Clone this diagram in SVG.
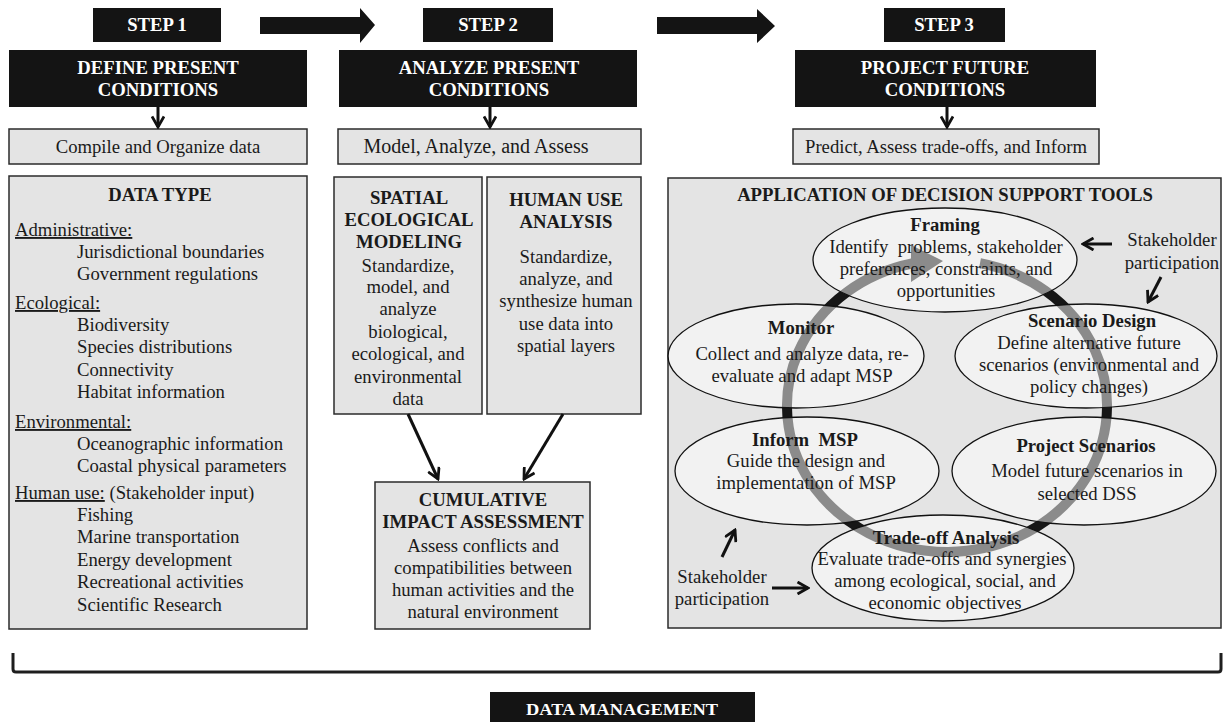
<svg xmlns="http://www.w3.org/2000/svg" width="1223" height="722" viewBox="0 0 1223 722">
<defs>
<style>
.t{font-family:"Liberation Serif","Times New Roman",serif;font-size:18.7px;fill:#1a1a1a}
.b{font-weight:bold}
.w{fill:#ffffff}
.c{text-anchor:middle}
.u{text-decoration:underline}
.box{fill:#e4e4e4;stroke:#2b2b2b;stroke-width:1.5}
.blk{fill:#141414}
.ell{fill:#ffffff;fill-opacity:0.5;stroke:#111;stroke-width:1.3}
.arr{stroke:#111;stroke-width:3;fill:none}
</style>
<marker id="v" viewBox="0 0 14 14" markerWidth="14" markerHeight="14" refX="12" refY="7" orient="auto" markerUnits="userSpaceOnUse">
<path d="M1.5,1 L12,7 L1.5,13" fill="none" stroke="#111" stroke-width="2.8"/>
</marker>
</defs>
<rect width="1223" height="722" fill="#ffffff"/>

<g id="step-arrows">
<polygon class="blk" points="260,17 360,17 360,8 375,25 360,43 360,34 260,34"/>
<polygon class="blk" points="657,17 757,17 757,9 775,26 757,43 757,34 657,34"/>
</g>

<g id="step1">
<rect class="blk" x="93" y="8" width="128" height="34"/>
<text class="t b w c" x="157" y="31">STEP 1</text>
</g>
<g id="step2">
<rect class="blk" x="423" y="8" width="130" height="34"/>
<text class="t b w c" x="488" y="31">STEP 2</text>
</g>
<g id="step3">
<rect class="blk" x="884" y="8" width="121" height="34"/>
<text class="t b w c" x="944" y="31">STEP 3</text>
</g>

<g id="define">
<rect class="blk" x="9" y="50" width="298" height="57"/>
<text class="t b w c" x="158" y="74">DEFINE PRESENT</text>
<text class="t b w c" x="158" y="96">CONDITIONS</text>
</g>
<g id="analyze">
<rect class="blk" x="339" y="50" width="298" height="57"/>
<text class="t b w c" x="489" y="74">ANALYZE PRESENT</text>
<text class="t b w c" x="489" y="96">CONDITIONS</text>
</g>
<g id="project">
<rect class="blk" x="795" y="50" width="301" height="57"/>
<text class="t b w c" x="945" y="74">PROJECT FUTURE</text>
<text class="t b w c" x="945" y="96">CONDITIONS</text>
</g>

<g id="compile">
<rect class="box" x="9" y="129" width="298" height="35"/>
<text class="t c" x="158" y="153">Compile and Organize data</text>
</g>
<g id="model">
<rect class="box" x="338" y="129" width="303" height="35"/>
<text class="t c" x="476" y="153" style="font-size:20px">Model, Analyze, and Assess</text>
</g>
<g id="predict">
<rect class="box" x="793" y="129" width="306" height="35"/>
<text class="t c" x="946" y="153">Predict, Assess trade-offs, and Inform</text>
</g>

<g id="datatype">
<rect class="box" x="9" y="176" width="298" height="453"/>
<text class="t b c" x="160" y="201">DATA TYPE</text>
<text class="t" x="15" y="236"><tspan class="u">Administrative:</tspan></text>
<text class="t" x="77" y="258">Jurisdictional boundaries</text>
<text class="t" x="77" y="280">Government regulations</text>
<text class="t" x="15" y="309"><tspan class="u">Ecological:</tspan></text>
<text class="t" x="77" y="331">Biodiversity</text>
<text class="t" x="77" y="353">Species distributions</text>
<text class="t" x="77" y="376">Connectivity</text>
<text class="t" x="77" y="398">Habitat information</text>
<text class="t" x="15" y="428"><tspan class="u">Environmental:</tspan></text>
<text class="t" x="77" y="450">Oceanographic information</text>
<text class="t" x="77" y="472">Coastal physical parameters</text>
<text class="t" x="15" y="499"><tspan class="u">Human use:</tspan> (Stakeholder input)</text>
<text class="t" x="77" y="521">Fishing</text>
<text class="t" x="77" y="543">Marine transportation</text>
<text class="t" x="77" y="566">Energy development</text>
<text class="t" x="77" y="588">Recreational activities</text>
<text class="t" x="77" y="611">Scientific Research</text>
</g>

<g id="spatial">
<rect class="box" x="334" y="177" width="148" height="237"/>
<text class="t b c" x="409" y="204">SPATIAL</text>
<text class="t b c" x="409" y="226">ECOLOGICAL</text>
<text class="t b c" x="409" y="248">MODELING</text>
<text class="t c" x="408" y="272">Standardize,</text>
<text class="t c" x="408" y="293">model, and</text>
<text class="t c" x="408" y="315">analyze</text>
<text class="t c" x="408" y="338">biological,</text>
<text class="t c" x="408" y="360">ecological, and</text>
<text class="t c" x="408" y="383">environmental</text>
<text class="t c" x="408" y="405">data</text>
</g>
<g id="humanuse">
<rect class="box" x="487" y="177" width="154" height="237"/>
<text class="t b c" x="566" y="206">HUMAN USE</text>
<text class="t b c" x="566" y="228">ANALYSIS</text>
<text class="t c" x="566" y="263">Standardize,</text>
<text class="t c" x="566" y="285">analyze, and</text>
<text class="t c" x="566" y="307">synthesize human</text>
<text class="t c" x="566" y="330">use data into</text>
<text class="t c" x="566" y="352">spatial layers</text>
</g>
<g id="cumulative">
<rect class="box" x="375" y="482" width="215" height="147"/>
<text class="t b c" x="483" y="506">CUMULATIVE</text>
<text class="t b c" x="483" y="528">IMPACT ASSESSMENT</text>
<text class="t c" x="483" y="552">Assess conflicts and</text>
<text class="t c" x="483" y="574">compatibilities between</text>
<text class="t c" x="483" y="596">human activities and the</text>
<text class="t c" x="483" y="618">natural environment</text>
</g>

<g id="application">
<rect class="box" x="668" y="178" width="553" height="450"/>
<text class="t b c" x="945" y="201">APPLICATION OF DECISION SUPPORT TOOLS</text>
</g>

<g id="cycle-ring">
<path d="M980,263.1 A160,146 0 1 1 912,263.5" fill="none" stroke="#161616" stroke-width="10"/>
<polygon points="911,245 943,261 911,282" fill="#161616"/>
</g>

<g id="framing">
<ellipse class="ell" cx="945" cy="260" rx="132" ry="52"/>
<text class="t b c" x="945" y="231">Framing</text>
<text class="t c" x="946" y="253" xml:space="preserve">Identify  problems, stakeholder</text>
<text class="t c" x="946" y="275">preferences, constraints, and</text>
<text class="t c" x="946" y="297">opportunities</text>
</g>
<g id="monitor">
<ellipse class="ell" cx="796" cy="356" rx="128" ry="52"/>
<text class="t b c" x="801" y="334">Monitor</text>
<text class="t c" x="802" y="360">Collect and analyze data, re-</text>
<text class="t c" x="802" y="382">evaluate and adapt MSP</text>
</g>
<g id="scenario">
<ellipse class="ell" cx="1086" cy="356" rx="131" ry="52"/>
<text class="t b c" x="1092" y="327">Scenario Design</text>
<text class="t c" x="1089" y="349">Define alternative future</text>
<text class="t c" x="1089" y="371">scenarios (environmental and</text>
<text class="t c" x="1089" y="393">policy changes)</text>
</g>
<g id="inform">
<ellipse class="ell" cx="807" cy="471" rx="132" ry="54"/>
<text class="t b c" x="805" y="446" xml:space="preserve">Inform  MSP</text>
<text class="t c" x="806" y="467">Guide the design and</text>
<text class="t c" x="806" y="489">implementation of MSP</text>
</g>
<g id="projectscen">
<ellipse class="ell" cx="1084" cy="471" rx="132" ry="54"/>
<text class="t b c" x="1086" y="452">Project Scenarios</text>
<text class="t c" x="1087" y="477">Model future scenarios in</text>
<text class="t c" x="1087" y="500">selected DSS</text>
</g>
<g id="tradeoff">
<ellipse class="ell" cx="943" cy="568" rx="131" ry="53"/>
<text class="t b c" x="946" y="544">Trade-off Analysis</text>
<text class="t c" x="942" y="565">Evaluate trade-offs and synergies</text>
<text class="t c" x="945" y="587">among ecological, social, and</text>
<text class="t c" x="945" y="609">economic objectives</text>
</g>

<g id="stakeholder-top">
<text class="t c" x="1172" y="246">Stakeholder</text>
<text class="t c" x="1172" y="269">participation</text>
</g>
<g id="stakeholder-bottom">
<text class="t c" x="722" y="583">Stakeholder</text>
<text class="t c" x="722" y="605">participation</text>
</g>

<g id="connectors">
<line class="arr" x1="158" y1="107" x2="158" y2="127" marker-end="url(#v)"/>
<line class="arr" x1="490" y1="107" x2="490" y2="127" marker-end="url(#v)"/>
<line class="arr" x1="947" y1="107" x2="947" y2="127" marker-end="url(#v)"/>
<line class="arr" x1="408" y1="414" x2="438" y2="479" marker-end="url(#v)"/>
<line class="arr" x1="563" y1="414" x2="524" y2="479" marker-end="url(#v)"/>
<line class="arr" x1="1112" y1="244" x2="1083" y2="244" marker-end="url(#v)"/>
<line class="arr" x1="1161" y1="277" x2="1148" y2="302" marker-end="url(#v)"/>
<line class="arr" x1="722" y1="557" x2="735" y2="530" marker-end="url(#v)"/>
<line class="arr" x1="772" y1="588" x2="808" y2="588" marker-end="url(#v)"/>
</g>

<g id="data-management">
<path d="M13,653 L13,669 Q13,672 16,672 L1218,672 Q1221,672 1221,669 L1221,653" fill="none" stroke="#1e1e1e" stroke-width="3"/>
<rect class="blk" x="490" y="692" width="265" height="30"/>
<text class="t b w c" x="622" y="715" style="font-size:17px" textLength="192" lengthAdjust="spacingAndGlyphs">DATA MANAGEMENT</text>
</g>
</svg>
